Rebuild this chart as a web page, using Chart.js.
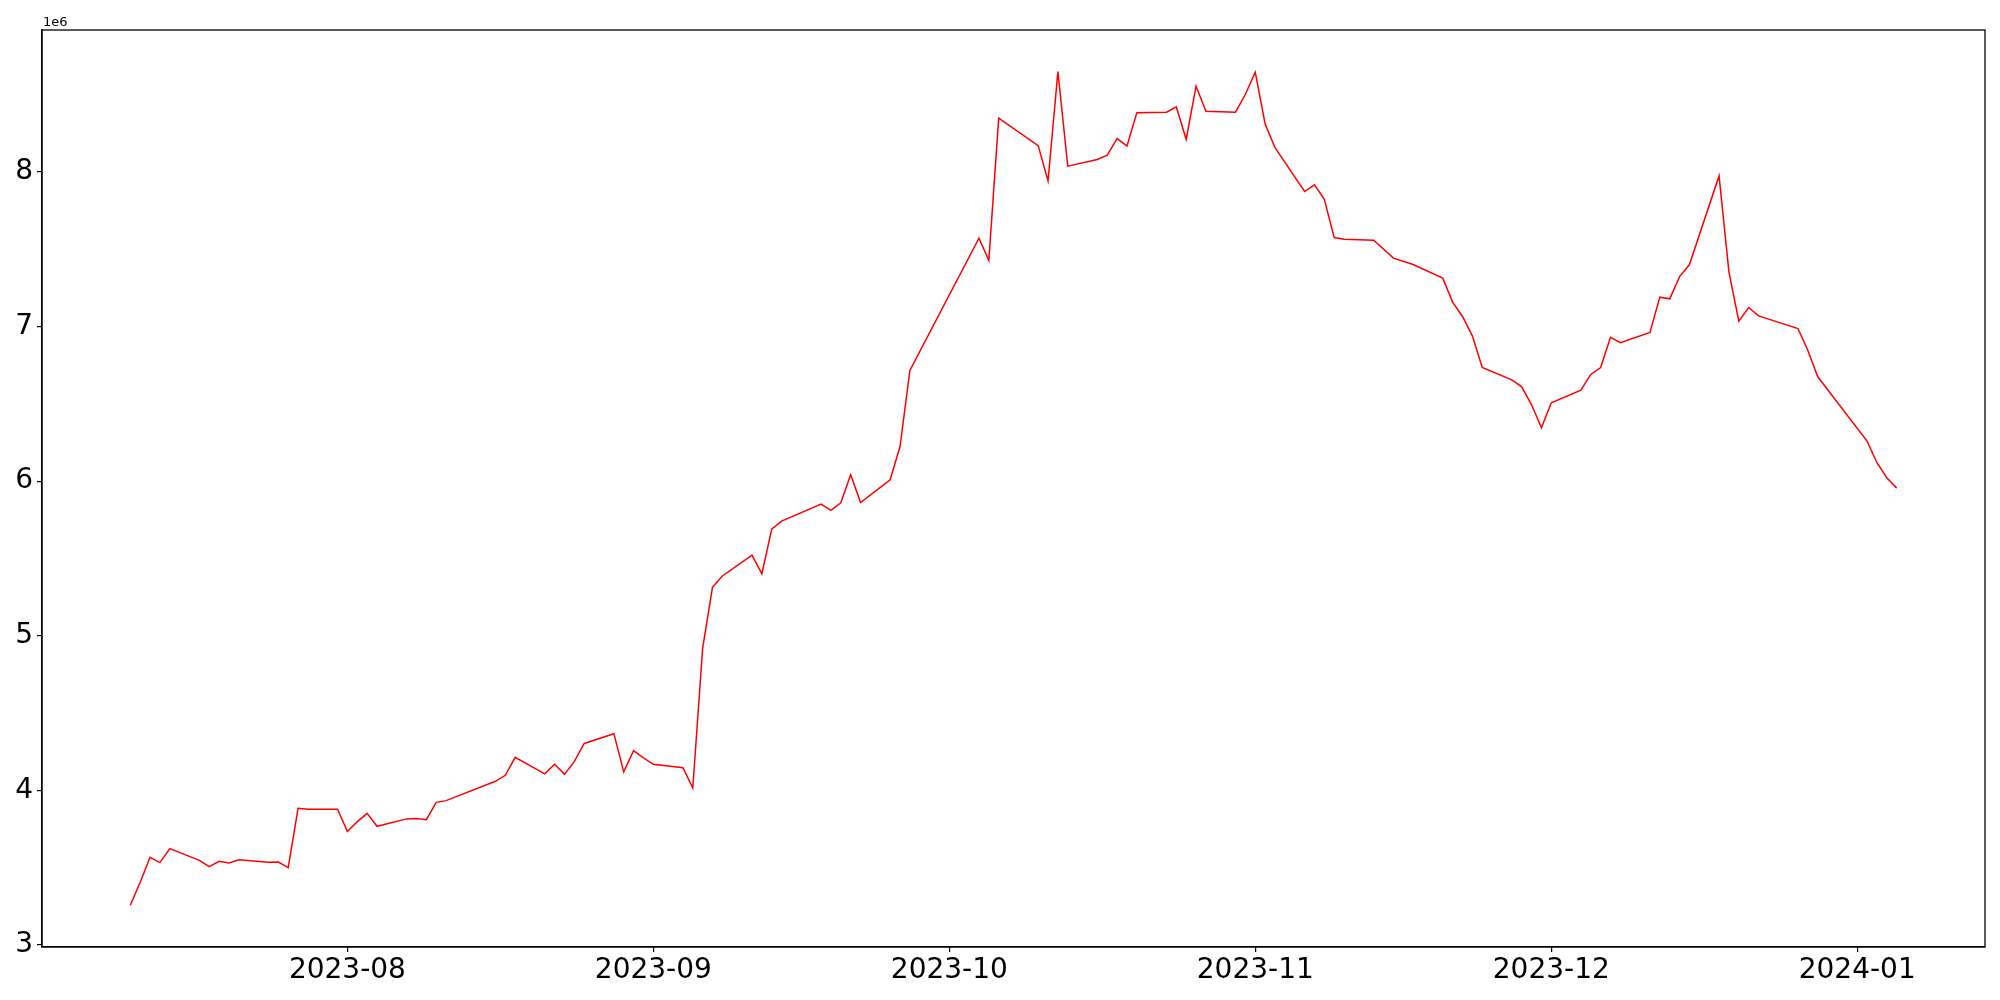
<!DOCTYPE html>
<html>
<head>
<meta charset="utf-8">
<script src="https://cdn.jsdelivr.net/npm/chart.js@4.4.0/dist/chart.umd.min.js"></script>
<style>
    html, body { margin: 0; padding: 0; background: #fff; }
    #wrap { width: 2000px; height: 1000px; }
</style>
</head>
<body>
<div id="wrap"><canvas id="lineChart" width="2000" height="1000"></canvas></div>
<script>
// trading days (gaps are weekends / market holidays)
const dates = [
    '2023-07-10', '2023-07-11', '2023-07-12', '2023-07-13', '2023-07-14',
    '2023-07-17', '2023-07-18', '2023-07-19', '2023-07-20', '2023-07-21',
    '2023-07-24', '2023-07-25', '2023-07-26', '2023-07-27', '2023-07-28',
    '2023-07-31', '2023-08-01', '2023-08-02', '2023-08-03', '2023-08-04',
    '2023-08-07', '2023-08-08', '2023-08-09', '2023-08-10', '2023-08-11',
    '2023-08-16', '2023-08-17', '2023-08-18',
    '2023-08-21', '2023-08-22', '2023-08-23', '2023-08-24', '2023-08-25',
    '2023-08-28', '2023-08-29', '2023-08-30', '2023-08-31', '2023-09-01',
    '2023-09-04', '2023-09-05', '2023-09-06', '2023-09-07', '2023-09-08',
    '2023-09-11', '2023-09-12', '2023-09-13', '2023-09-14',
    '2023-09-18', '2023-09-19', '2023-09-20', '2023-09-21', '2023-09-22',
    '2023-09-25', '2023-09-26', '2023-09-27',
    '2023-10-04', '2023-10-05', '2023-10-06',
    '2023-10-10', '2023-10-11', '2023-10-12', '2023-10-13',
    '2023-10-16', '2023-10-17', '2023-10-18', '2023-10-19', '2023-10-20',
    '2023-10-23', '2023-10-24', '2023-10-25', '2023-10-26', '2023-10-27',
    '2023-10-30', '2023-10-31', '2023-11-01', '2023-11-02', '2023-11-03',
    '2023-11-06', '2023-11-07', '2023-11-08', '2023-11-09', '2023-11-10',
    '2023-11-13', '2023-11-15', '2023-11-17',
    '2023-11-20', '2023-11-21', '2023-11-22', '2023-11-23', '2023-11-24',
    '2023-11-27', '2023-11-28', '2023-11-29', '2023-11-30', '2023-12-01',
    '2023-12-04', '2023-12-05', '2023-12-06', '2023-12-07', '2023-12-08',
    '2023-12-11', '2023-12-12', '2023-12-13', '2023-12-14', '2023-12-15',
    '2023-12-18', '2023-12-19', '2023-12-20', '2023-12-21', '2023-12-22',
    '2023-12-26', '2023-12-27', '2023-12-28',
    '2024-01-02', '2024-01-03', '2024-01-04', '2024-01-05'
];

const values = [
    3257000, 3406000, 3568000, 3533000, 3624000,
    3548000, 3507000, 3542000, 3531000, 3551000,
    3535000, 3537000, 3501000, 3884000, 3878000,
    3878000, 3734000, 3798000, 3852000, 3768000,
    3816000, 3818000, 3811000, 3923000, 3934000,
    4059000, 4098000, 4214000,
    4107000, 4169000, 4104000, 4188000, 4304000,
    4367000, 4120000, 4257000, 4210000, 4169000,
    4147000, 4016000, 4921000, 5315000, 5387000,
    5522000, 5401000, 5690000, 5742000,
    5852000, 5811000, 5860000, 6041000, 5862000,
    6009000, 6224000, 6716000,
    7571000, 7427000, 8347000,
    8170000, 7942000, 8648000, 8037000,
    8080000, 8108000, 8215000, 8168000, 8383000,
    8386000, 8420000, 8211000, 8554000, 8392000,
    8386000, 8502000, 8645000, 8310000, 8157000,
    7873000, 7916000, 7823000, 7575000, 7565000,
    7558000, 7442000, 7401000,
    7313000, 7158000, 7065000, 6940000, 6735000,
    6655000, 6610000, 6494000, 6345000, 6507000,
    6589000, 6690000, 6735000, 6930000, 6895000,
    6962000, 7190000, 7179000, 7323000, 7401000,
    7974000, 7354000, 7035000, 7123000, 7069000,
    6987000, 6845000, 6675000,
    6259000, 6119000, 6022000, 5955000
];

const monthTicks = ['2023-08-01', '2023-09-01', '2023-10-01', '2023-11-01', '2023-12-01', '2024-01-01'];
const yTicks = [3000000, 4000000, 5000000, 6000000, 7000000, 8000000];

const DAY = 86400000;
const toDay = (s) => {
    const p = s.split('-').map(Number);
    return Date.UTC(p[0], p[1] - 1, p[2]) / DAY;
};
const fmtMonth = (d) => {
    const dt = new Date(Math.round(d) * DAY);
    return dt.getUTCFullYear() + '-' + String(dt.getUTCMonth() + 1).padStart(2, '0');
};

// matplotlib style 5% margins
const xFirst = toDay(dates[0]);
const xLast = toDay(dates[dates.length - 1]);
const xPad = (xLast - xFirst) * 0.05;
const yLo = Math.min(...values), yHi = Math.max(...values);
const yPad = (yHi - yLo) * 0.05;

const tickFont = { family: 'DejaVu Sans', size: 28 };

// box around the plot + the "1e6" offset label
const framePlugin = {
    id: 'frame',
    afterDraw(chart) {
        const { ctx, chartArea } = chart;
        ctx.save();
        ctx.strokeStyle = '#000';
        ctx.lineWidth = 1.3;
        ctx.strokeRect(chartArea.left, chartArea.top, chartArea.right - chartArea.left, chartArea.bottom - chartArea.top);
        ctx.fillStyle = '#000';
        ctx.font = '13px "DejaVu Sans"';
        ctx.textBaseline = 'alphabetic';
        ctx.textAlign = 'left';
        ctx.fillText('1e6', chartArea.left + 1, chartArea.top - 4);
        ctx.restore();
    }
};

const ctx = document.getElementById('lineChart').getContext('2d');
window.priceChart = new Chart(ctx, {
    type: 'line',
    data: {
        datasets: [{
            data: dates.map((d, i) => ({ x: toDay(d), y: values[i] })),
            borderColor: 'red',
            borderWidth: 1.5,
            pointRadius: 0,
            tension: 0,
            fill: false
        }]
    },
    options: {
        responsive: false,
        animation: false,
        devicePixelRatio: 1,
        layout: { padding: { top: 30, right: 15, left: 0, bottom: 0 } },
        plugins: {
            legend: { display: false },
            tooltip: { enabled: false }
        },
        scales: {
            x: {
                type: 'linear',
                min: xFirst - xPad,
                max: xLast + xPad,
                grid: { drawOnChartArea: false, drawTicks: true, tickLength: 5, color: '#000', lineWidth: 1.2 },
                border: { display: true, color: '#000', width: 1.3 },
                ticks: {
                    font: tickFont,
                    color: '#000',
                    padding: 2,
                    maxRotation: 0,
                    autoSkip: false,
                    callback: (v) => fmtMonth(v)
                },
                afterBuildTicks: (scale) => {
                    scale.ticks = monthTicks.map(d => ({ value: toDay(d) }));
                },
                afterFit: (scale) => { scale.height = 53; }
            },
            y: {
                type: 'linear',
                min: yLo - yPad,
                max: yHi + yPad,
                grid: { drawOnChartArea: false, drawTicks: true, tickLength: 5, color: '#000', lineWidth: 1.2 },
                border: { display: true, color: '#000', width: 1.3 },
                ticks: {
                    font: tickFont,
                    color: '#000',
                    padding: 4,
                    callback: (v) => String(Math.round(v / 1e6))
                },
                afterBuildTicks: (scale) => {
                    scale.ticks = yTicks.map(v => ({ value: v }));
                },
                afterFit: (scale) => { scale.width = 42; }
            }
        }
    },
    plugins: [framePlugin]
});
</script>
</body>
</html>
